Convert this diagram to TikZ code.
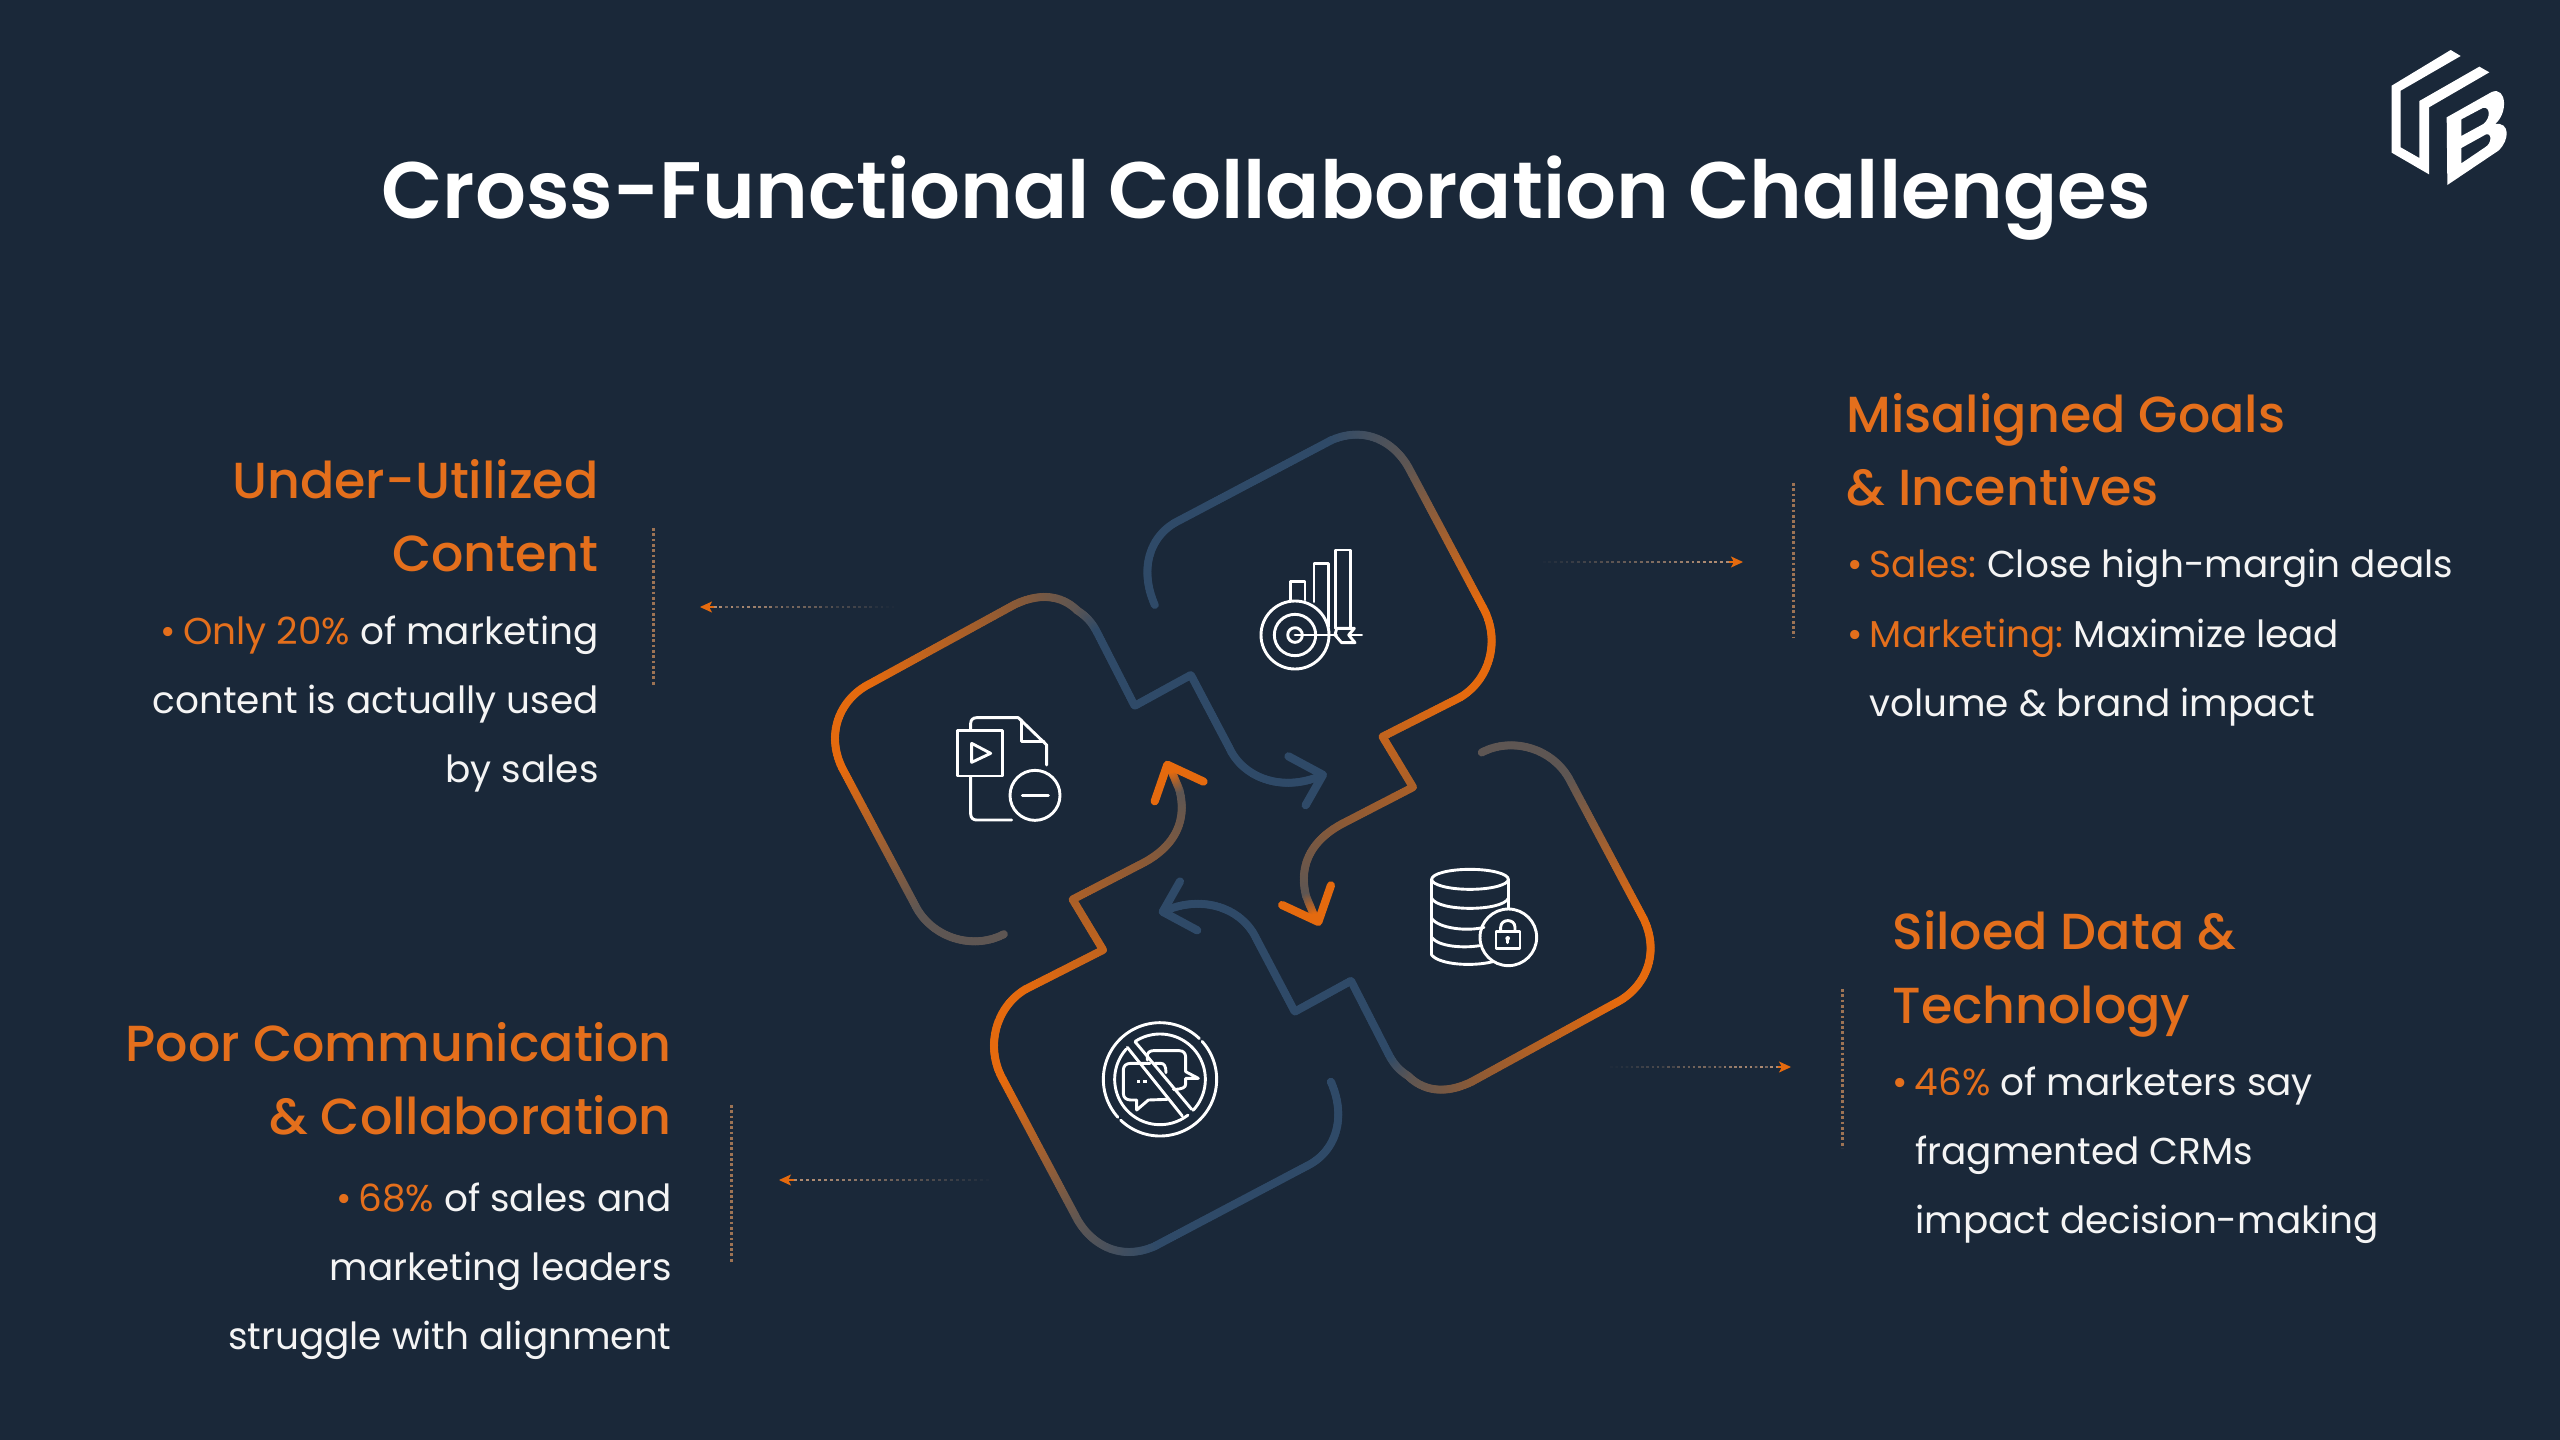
\documentclass[tikz,border=0pt]{standalone}
\usepackage{fontspec}
\setmainfont{Poppins}
\newfontfamily\psemi{Poppins SemiBold}
\newfontfamily\pmed{Poppins Medium}
\usetikzlibrary{decorations.markings,calc,arrows.meta}
\definecolor{bgc}{HTML}{1A2839}
\definecolor{org}{HTML}{E56A0E}
\definecolor{txo}{HTML}{E46F1C}
\definecolor{blu}{HTML}{2F4A68}
\definecolor{gry}{HTML}{5E5653}
\definecolor{brn}{HTML}{8C5A36}
\definecolor{txw}{HTML}{F4F4F4}
\newcommand{\bul}{\hbox to 11.2pt{\textcolor{txo}{•}\hfil}}
\newcommand{\ot}[1]{\textcolor{txo}{#1}}
\tikzset{
  gstroke/.style 2 args={decoration={markings,mark=between positions 0 and 1 step .7pt with {
    \pgfmathsetmacro\gpct{min(100,100*(\pgfkeysvalueof{/pgf/decoration/mark info/distance from start}/\pgfdecoratedpathlength))}
    \fill[color={#2!\gpct!#1}] (0,0) circle (2.05pt);}},decorate},
  title/.style={inner sep=0,anchor=base,text=white,font=\psemi\fontsize{40}{44}\selectfont},
  hdre/.style={inner sep=0,anchor=base east,text=txo,font=\pmed\fontsize{25.35}{30}\selectfont},
  hdrw/.style={inner sep=0,anchor=base west,text=txo,font=\pmed\fontsize{25.35}{30}\selectfont},
  bode/.style={inner sep=0,anchor=base east,text=txw,font=\fontsize{18.7}{24}\selectfont},
  bodw/.style={inner sep=0,anchor=base west,text=txw,font=\fontsize{18.7}{24}\selectfont},
  tick/.style={draw=#1,line width=1.5pt,dash pattern=on 1.4pt off 1.25pt},
  tick/.default={brn!85!white},
  ico/.style={draw=white,line width=1.45pt,line cap=round,line join=round},
  barb/.style={line width=4.1pt,line cap=round,line join=round},
  zoomscope/.style={shift={(800,400)},x=.28699pt,y=-.28058pt},
}
\newcommand{\gseg}[3]{\path[gstroke={#1}{#2}] #3;}
% chart / chat loop
\newcommand{\loopA}{%
  \gseg{blu}{blu}{(618,365) .. controls (590,300) and (610,240) .. (660,215) -- (925,72)}
  \gseg{blu}{gry}{(925,72) .. controls (985,45) and (1035,75) .. (1060,120)}
  \gseg{gry}{org}{(1060,120) -- (1190,370)}
  \gseg{org}{org}{(1190,370) .. controls (1222,430) and (1200,500) .. (1150,530)}
  \gseg{org}{brn}{(1150,530) -- (1015,600) -- (1068,690) -- (945,755)}
  \gseg{brn}{gry}{(945,755) .. controls (890,785) and (868,830) .. (882,885)}
  \gseg{gry}{org}{(882,885) -- (897,922)}
  \draw[barb,draw=org] (840,900) -- (903,930) -- (925,865);
}
% database / document loop
\newcommand{\loopB}{%
  \gseg{gry}{gry}{(1188,628) .. controls (1240,600) and (1310,620) .. (1340,675)}
  \gseg{gry}{org}{(1340,675) -- (1470,925)}
  \gseg{org}{org}{(1470,925) .. controls (1500,990) and (1470,1050) .. (1420,1075)}
  \gseg{org}{brn}{(1420,1075) -- (1170,1215)}
  \gseg{brn}{gry}{(1170,1215) .. controls (1130,1235) and (1090,1235) .. (1060,1205)}
  \gseg{gry}{blu}{(1060,1205) .. controls (1045,1195) and (1035,1185) .. (1025,1165)}
  \gseg{blu}{blu}{(1025,1165) -- (960,1035) -- (862,1090) -- (795,960) .. controls (770,905) and (700,880) .. (632,912)}
  \draw[barb,draw=blu] (662,858) -- (632,912) -- (692,945);
}
% leader with fading dashes: #1 faint end, #2 tip
\newcommand{\leader}[2]{%
  \foreach \i in {0,...,35}{
    \pgfmathsetmacro\lp{min(100,\i*3.4)}
    \draw[line width=.55pt,color={brn!70!white!\lp!bgc}] ($(#1)!\i/36!(#2)$) -- ($(#1)!{(\i+.5)/36}!(#2)$);
  }
  \draw[line width=.55pt,draw=org,-{Stealth[length=6pt,width=5.5pt,inset=1.4pt]}] ($(#1)!.93!(#2)$) -- (#2);
}
\begin{document}
\begin{tikzpicture}[x=.5pt,y=-.5pt]
\fill[bgc] (0,0) rectangle (2560,1440);
\useasboundingbox (0,0) rectangle (2560,1440);

\node[title] (ttl) at (1266,218) {Cross-Functional Collaboration Challenges};

% Logo
\begin{scope}[shift={(2360,30)},x=.16667pt,y=-.16667pt]
\fill[white] (272,60) -- (302,78) -- (122,182) -- (122,352) -- (178,384) -- (178,213) -- (358,110) -- (388,127) -- (207,232) -- (207,433) -- (95,368) -- (95,167) -- cycle;
\fill[white,even odd rule] (260,262) -- (395,186) .. controls (440,168) and (445,250) .. (405,282) .. controls (450,275) and (450,330) .. (415,362) -- (262,465) -- cycle
  (304,268) -- (368,234) .. controls (392,228) and (392,265) .. (370,282) -- (304,318) -- cycle
  (304,354) -- (378,313) .. controls (396,308) and (396,340) .. (375,352) -- (304,400) -- cycle;
\end{scope}

% Loops
\begin{scope}[zoomscope]
\loopA
\loopB
\begin{scope}[rotate around={180:(771.5,790)}]
\loopA
\loopB
\end{scope}
\end{scope}

% Document icon
\begin{scope}[shift={(930,680)},x=.16667pt,y=-.16667pt]
\draw[ico] (122,290) -- (122,402) .. controls (122,414) and (130,420) .. (140,420) -- (245,420);
\draw[ico] (122,150) -- (122,130) .. controls (122,119) and (130,113) .. (140,113) -- (265,113) -- (350,195) -- (350,255);
\draw[ico] (275,120) -- (275,185) -- (342,185);
\draw[ico] (82,152) rectangle (218,288);
\draw[ico] (125,190) -- (182,220) -- (125,247) -- cycle;
\draw[ico] (315,346) circle[radius=75];
\draw[ico] (277,346) -- (355,346);
\end{scope}

% Chart icon
\begin{scope}[shift={(1240,530)},x=.16667pt,y=-.16667pt]
\draw[ico] (152,210) -- (152,155) -- (195,155) -- (195,210);
\draw[ico] (222,215) -- (222,100) -- (265,100) -- (265,290);
\draw[ico] (287,295) -- (287,60) -- (332,60) -- (332,295);
\draw[ico] (165,315) circle[radius=102];
\draw[ico] (165,315) circle[radius=62];
\draw[ico] (165,315) circle[radius=22];
\draw[ico] (165,315) -- (290,315);
\draw[ico] (290,295) -- (343,295) -- (326,315) -- (345,338) -- (305,338) -- (285,315) -- cycle;
\draw[ico] (326,315) -- (365,315);
\end{scope}

% Database icon
\begin{scope}[shift={(1410,850)},x=.16667pt,y=-.16667pt]
\draw[ico] (180,88) ellipse[x radius=115,y radius=30];
\draw[ico] (65,88) -- (65,315);
\draw[ico] (295,88) -- (295,175);
\draw[ico] (65,145) .. controls (85,185) and (275,185) .. (295,145);
\draw[ico] (65,205) .. controls (85,235) and (170,245) .. (222,232);
\draw[ico] (65,262) .. controls (85,290) and (160,295) .. (208,287);
\draw[ico] (65,315) .. controls (90,345) and (190,350) .. (248,335);
\draw[ico] (295,262) circle[radius=85];
\draw[ico] (258,245) rectangle (330,295);
\draw[ico] (272,245) -- (272,232) .. controls (272,205) and (315,205) .. (315,232) -- (315,245);
\fill[white] (293,265) circle[radius=7];
\draw[ico] (293,265) -- (293,278);
\end{scope}

% No-chat icon
\begin{scope}[shift={(1090,1010)},x=.16667pt,y=-.16667pt]
\draw[ico] plot[smooth,domain=-42:134,samples=60] ({210+170*cos(\x)},{208+170*sin(\x)});
\draw[ico] plot[smooth,domain=138:314,samples=60] ({210+170*cos(\x)},{208+170*sin(\x)});
\draw[ico] plot[smooth,domain=-123:43,samples=60] ({210+136*cos(\x)},{208+136*sin(\x)});
\draw[ico] plot[smooth,domain=52:222,samples=60] ({210+136*cos(\x)},{208+136*sin(\x)});
\draw[ico] (135,95) -- (305,298);
\draw[ico] (112,112) -- (277,318);
% left bubble
\draw[ico] (180,160) -- (122,160) .. controls (108,160) and (100,168) .. (100,180) -- (100,250) .. controls (100,262) and (108,270) .. (122,270) -- (140,270) -- (140,300) -- (175,270) -- (232,268);
\draw[ico] (195,160) -- (212,160) .. controls (222,160) and (228,168) .. (228,188);
% right bubble
\draw[ico] (172,150) -- (172,138) .. controls (172,127) and (180,122) .. (190,122) -- (268,122) .. controls (280,122) and (287,130) .. (287,142) -- (287,185) -- (325,205) -- (287,205) -- (287,222) .. controls (287,232) and (278,238) .. (250,238);
\fill[white] (140,210) rectangle (151,220);
\fill[white] (160,210) rectangle (171,220);
\end{scope}

% Under-Utilized Content
\node[hdre] (a1) at (599,498) {Under-Utilized};
\node[hdre] (a2) at (599,571) {Content};
\node[bode] (a3) at (599,644) {\bul\ot{Only 20\%} of marketing};
\node[bode] (a4) at (599,713) {content is actually used};
\node[bode] (a5) at (599,782) {by sales};
\coordinate (av1) at (653,528); \coordinate (av2) at (653,685);
\draw[tick] (av1) -- (av2);
\coordinate (al1) at (900,607); \coordinate (al2) at (700,607);
\leader{al1}{al2}

% Poor Communication
\node[hdre] (b1) at (672,1061) {Poor Communication};
\node[hdre] (b2) at (672,1134) {\& Collaboration};
\node[bode] (b3) at (672,1211) {\bul\ot{68\%} of sales and};
\node[bode] (b4) at (672,1280) {marketing leaders};
\node[bode] (b5) at (672,1349) {struggle with alignment};
\coordinate (bv1) at (731,1105); \coordinate (bv2) at (731,1262);
\draw[tick] (bv1) -- (bv2);
\coordinate (bl1) at (995,1180); \coordinate (bl2) at (779,1180);
\leader{bl1}{bl2}

% Misaligned Goals
\node[hdrw] (c1) at (1846,432) {Misaligned Goals};
\node[hdrw] (c2) at (1846,505) {\& Incentives};
\node[bodw] (c3) at (1847,577) {\bul\ot{Sales:}\kern-1.6pt{} Close high-margin deals};
\node[bodw] (c4) at (1847,647) {\bul\ot{Marketing:}\kern-1.6pt{} Maximize lead};
\node[bodw] (c5) at (1869,716) {volume \& brand impact};
\coordinate (cv1) at (1793,483); \coordinate (cv2) at (1793,638);
\draw[tick] (cv1) -- (cv2);
\coordinate (cl1) at (1537,562); \coordinate (cl2) at (1743,562);
\leader{cl1}{cl2}

% Siloed Data
\node[hdrw] (d1) at (1892,949) {Siloed Data \&};
\node[hdrw] (d2) at (1892,1023) {Technology};
\node[bodw] (d3) at (1892,1095) {\bul\ot{46\%} of marketers say};
\node[bodw] (d4) at (1915,1164) {fragmented CRMs};
\node[bodw] (d5) at (1915,1233) {impact decision-making};
\coordinate (dv1) at (1842,989); \coordinate (dv2) at (1842,1148);
\draw[tick] (dv1) -- (dv2);
\coordinate (dl1) at (1605,1067); \coordinate (dl2) at (1791,1067);
\leader{dl1}{dl2}
\end{tikzpicture}
\end{document}
